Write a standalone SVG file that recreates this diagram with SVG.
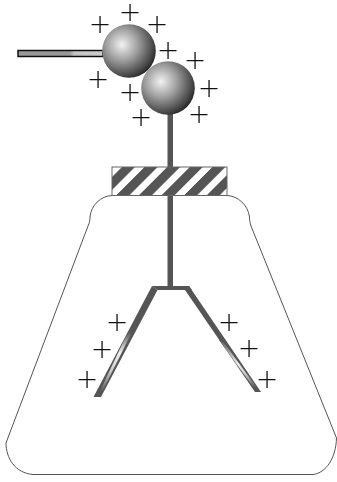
<svg xmlns="http://www.w3.org/2000/svg" width="337" height="482" viewBox="0 0 337 482">
<style>
.p{font-family:"DejaVu Sans",sans-serif;font-weight:200;font-size:27px;text-anchor:middle;fill:#111}
.l{fill:#555}
.f{fill:none;stroke:#555;stroke-width:1}
</style>
<defs>
<filter id="n" x="0" y="0" width="337" height="482" filterUnits="userSpaceOnUse" color-interpolation-filters="sRGB"><feOffset dx="0" dy="0"/></filter>
<radialGradient id="s" cx="0.37" cy="0.38" r="0.68" fx="0.37" fy="0.38">
<stop offset="0" stop-color="#f2f2f2"/><stop offset="0.45" stop-color="#9c9c9c"/><stop offset="0.85" stop-color="#484848"/><stop offset="1" stop-color="#222"/>
</radialGradient>
<linearGradient id="a" gradientUnits="userSpaceOnUse" x1="0" y1="332" x2="0" y2="392">
<stop offset="0" stop-color="#555"/><stop offset="0.35" stop-color="#f0f0f0"/><stop offset="0.65" stop-color="#ccc"/><stop offset="1" stop-color="#555"/>
</linearGradient>
<linearGradient id="b" gradientUnits="userSpaceOnUse" x1="0" y1="340" x2="0" y2="388">
<stop offset="0" stop-color="#555"/><stop offset="0.5" stop-color="#f0f0f0"/><stop offset="0.7" stop-color="#ccc"/><stop offset="1" stop-color="#555"/>
</linearGradient>
<linearGradient id="r" gradientUnits="userSpaceOnUse" x1="18" y1="0" x2="104" y2="0">
<stop offset="0" stop-color="#999"/><stop offset="0.6" stop-color="#999"/><stop offset="0.65" stop-color="#c4c4c4"/><stop offset="1" stop-color="#ccc"/>
</linearGradient>
<pattern id="h" patternUnits="userSpaceOnUse" width="22.6" height="29" patternTransform="translate(122 167) skewX(-45)">
<rect width="22.6" height="29" fill="#fff"/><rect width="13" height="29" fill="#555"/>
</pattern>
</defs>
<g id="flask"><path class="f" d="M112 195.500C101 196 91 205 90 217C90 220 89.500 223 88 226L6 443C6 458 15 473 33 474.500L313 474.500C326 473 336 458 336.500 438L251 226C250 223 249.500 220 249.500 217C248 205 238 196 227 195.500"/></g>
<g id="electroscope">
<rect class="l" x="167.500" y="113" width="5.500" height="55"/>
<rect x="112" y="167" width="115" height="28.500" fill="url(#h)" stroke="#666" stroke-width="1"/>
<rect class="l" x="167.500" y="196" width="5.500" height="91"/>
<polygon class="l" points="152,286 189,286 192,290 185,290 157.500,290"/>
<polygon class="l" points="152,286 157.500,290 101,397 93.500,397"/>
<polygon class="l" points="189,286 185,290 255,392 261,392"/>
<polygon points="128,332 132,332 102,392 99.500,392" fill="url(#a)"/>
<polygon points="219,340 222,340 257,388 254,388" fill="url(#b)"/>
</g>
<g id="rod"><rect x="18" y="50.500" width="85" height="6" fill="url(#r)" stroke="#111" stroke-width="1.500"/></g>
<g id="sphere-1"><circle cx="129" cy="51" r="26.800" fill="url(#s)"/></g>
<g id="sphere-2"><circle cx="168" cy="88" r="26.800" fill="url(#s)"/></g>
<g id="charges" filter="url(#n)">
<text class="p" x="130" y="20.500">+</text>
<text class="p" x="100" y="32.500">+</text>
<text class="p" x="157" y="32.500">+</text>
<text class="p" x="168" y="58.500">+</text>
<text class="p" x="195" y="68.500">+</text>
<text class="p" x="209" y="96.500">+</text>
<text class="p" x="199" y="122.500">+</text>
<text class="p" x="141" y="125.500">+</text>
<text class="p" x="130" y="100.500">+</text>
<text class="p" x="98" y="87.500">+</text>
<text class="p" x="117" y="330.500">+</text>
<text class="p" x="102" y="357.500">+</text>
<text class="p" x="87" y="387.500">+</text>
<text class="p" x="229" y="330.500">+</text>
<text class="p" x="249" y="356.500">+</text>
<text class="p" x="267" y="387.500">+</text>
</g>
</svg>
